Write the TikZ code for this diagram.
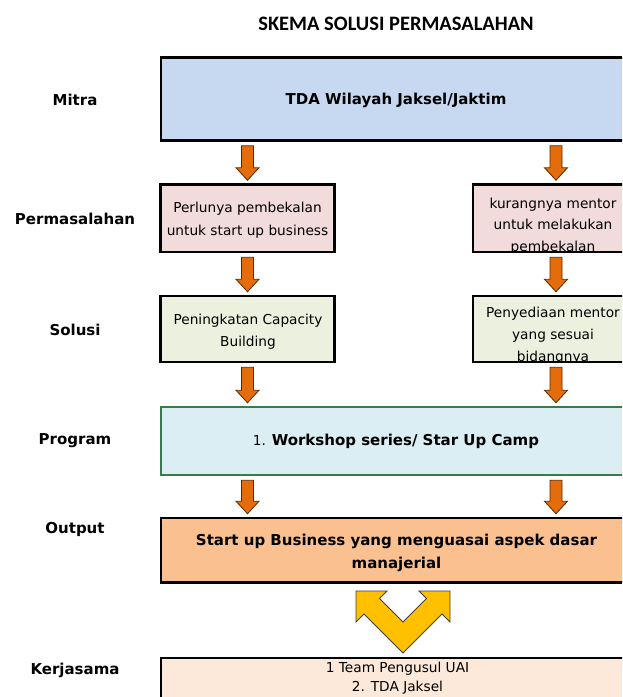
\documentclass[tikz,border=0pt]{standalone}
\usepackage{fontspec}
\usetikzlibrary{calc}
\newfontfamily\dvs{DejaVu Sans}
\newfontfamily\carl{Carlito}
\definecolor{mitrafill}{HTML}{C6D9F1}
\definecolor{permfill}{HTML}{F2DCDB}
\definecolor{solfill}{HTML}{EBF1DE}
\definecolor{progfill}{HTML}{DAEEF3}
\definecolor{outfill}{HTML}{FAC090}
\definecolor{kerjafill}{HTML}{FDE9D9}
\definecolor{proggreen}{RGB}{55,125,75}
\definecolor{arroworange}{HTML}{E46C0A}
\definecolor{arrowedge}{RGB}{90,40,0}
\definecolor{vyellow}{HTML}{FFC000}
\tikzset{
  box/.style={draw=black, line width=2.5pt, inner sep=0pt},
  rowlabel/.style={font=\dvs\bfseries\fontsize{15}{18}\selectfont},
  boldtxt/.style={font=\dvs\bfseries\fontsize{15}{23.3}\selectfont, align=center},
  regtxt/.style={font=\dvs\fontsize{13.7}{23}\selectfont, align=center},
  blockarrow/.style={fill=arroworange, draw=arrowedge, line width=0.8pt, line join=miter},
  vshape/.style={fill=vyellow, draw=black!75, line width=0.8pt, line join=miter}
}
\newcommand\blkarrow[2]{\path[blockarrow] let \p1=(#1), \p2=(#2) in
  (\x1-6pt,\y1) -- (\x1+6pt,\y1) -- (\x1+6pt,\y2+12.5pt) -- (\x1+11.5pt,\y2+12.5pt)
  -- (\x1,\y2) -- (\x1-11.5pt,\y2+12.5pt) -- (\x1-6pt,\y2+12.5pt) -- cycle;}
\begin{document}
\begin{tikzpicture}[x=1pt,y=-1pt]
\useasboundingbox (0,0) rectangle (622,697);
\fill[white] (0,0) rectangle (622,697);
\clip (0,0) rectangle (622,697);

\node[font=\carl\bfseries\fontsize{20.5}{24}\selectfont] (title) at (396,24) {SKEMA SOLUSI PERMASALAHAN};

\coordinate (colL) at (247.5,0);
\coordinate (colR) at (556,0);

% row labels
\node[rowlabel] (lmitra) at (75,100) {Mitra};
\node[rowlabel] (lperm) at (75,219) {Permasalahan};
\node[rowlabel] (lsol) at (75,330) {Solusi};
\node[rowlabel] (lprog) at (75,441) {Program};
\node[rowlabel] (lout) at (75,529) {Output};
\node[rowlabel] (lkerja) at (75,670) {Kerjasama};

% boxes
\node[box, fill=mitrafill, minimum width=475, minimum height=83] (mitra) at (398.5,99) {};
\node[boldtxt] (mitratxt) at (396,100) {TDA Wilayah Jaksel/Jaktim};

\node[box, fill=permfill, minimum width=174, minimum height=67.5] (perm1) at (247.5,218.25) {};
\node[regtxt] (perm1txt) at (247.5,220.5) {Perlunya pembekalan\\untuk start up business};

\node[box, fill=permfill, minimum width=161, minimum height=67.5] (perm2) at (553.5,218.25) {};
\begin{scope}
\clip ($(perm2.south west)+(2.5pt,2.5pt)$) rectangle ($(perm2.north east)+(-2.5pt,-2.5pt)$);
\node[regtxt, font=\dvs\fontsize{13.7}{21.5}\selectfont] (perm2txt) at (553,226) {kurangnya mentor\\untuk melakukan\\pembekalan};
\end{scope}

\node[box, fill=solfill, minimum width=174, minimum height=66] (sol1) at (247.5,329) {};
\node[regtxt, font=\dvs\fontsize{13.7}{21.5}\selectfont] (sol1txt) at (248,331.5) {Peningkatan Capacity\\Building};

\node[box, fill=solfill, minimum width=161, minimum height=66] (sol2) at (553.5,329) {};
\begin{scope}
\clip ($(sol2.south west)+(2.5pt,2.5pt)$) rectangle ($(sol2.north east)+(-2.5pt,-2.5pt)$);
\node[regtxt, font=\dvs\fontsize{13.7}{22}\selectfont] (sol2txt) at (553,335.5) {Penyediaan mentor\\yang sesuai\\bidangnya};
\end{scope}

\node[box, draw=proggreen, fill=progfill, minimum width=475, minimum height=68] (prog) at (398.5,441) {};
\node[boldtxt] (progtxt) at (396,441.5) {{\mdseries\fontsize{13.7}{18}\selectfont 1. }Workshop series/ Star Up Camp};

\node[box, fill=outfill, minimum width=475, minimum height=64.5] (out) at (398.5,550.25) {};
\node[boldtxt] (outtxt) at (396.5,553) {Start up Business yang menguasai aspek dasar\\manajerial};

\node[box, fill=kerjafill, minimum width=475, minimum height=52] (kerja) at (398.5,684) {};
\node[regtxt, font=\dvs\fontsize{13.7}{19}\selectfont] (kerjatxt) at (397.5,678) {1 Team Pengusul UAI\\2. TDA Jaksel};

% orange block arrows
\blkarrow{$(mitra.south -| colL)+(0,-4pt)$}{$(perm1.north -| colL)+(0,3pt)$}
\blkarrow{$(mitra.south -| colR)+(0,-4pt)$}{$(perm2.north -| colR)+(0,3pt)$}
\blkarrow{$(perm1.south -| colL)+(0,-4pt)$}{$(sol1.north -| colL)+(0,3pt)$}
\blkarrow{$(perm2.south -| colR)+(0,-4pt)$}{$(sol2.north -| colR)+(0,3pt)$}
\blkarrow{$(sol1.south -| colL)+(0,-4pt)$}{$(prog.north -| colL)+(0,3pt)$}
\blkarrow{$(sol2.south -| colR)+(0,-4pt)$}{$(prog.north -| colR)+(0,3pt)$}
\blkarrow{$(prog.south -| colL)+(0,-4pt)$}{$(out.north -| colL)+(0,3pt)$}
\blkarrow{$(prog.south -| colR)+(0,-4pt)$}{$(out.north -| colR)+(0,3pt)$}

% yellow V-shaped double arrow
\path[vshape] (356,591) -- (387,591) -- (379.5,598.5) -- (403,622) -- (426.5,598.5)
  -- (419,591) -- (450,591) -- (450,622) -- (442,614) -- (403,653) -- (364,614)
  -- (356,622) -- cycle;
\end{tikzpicture}
\end{document}
